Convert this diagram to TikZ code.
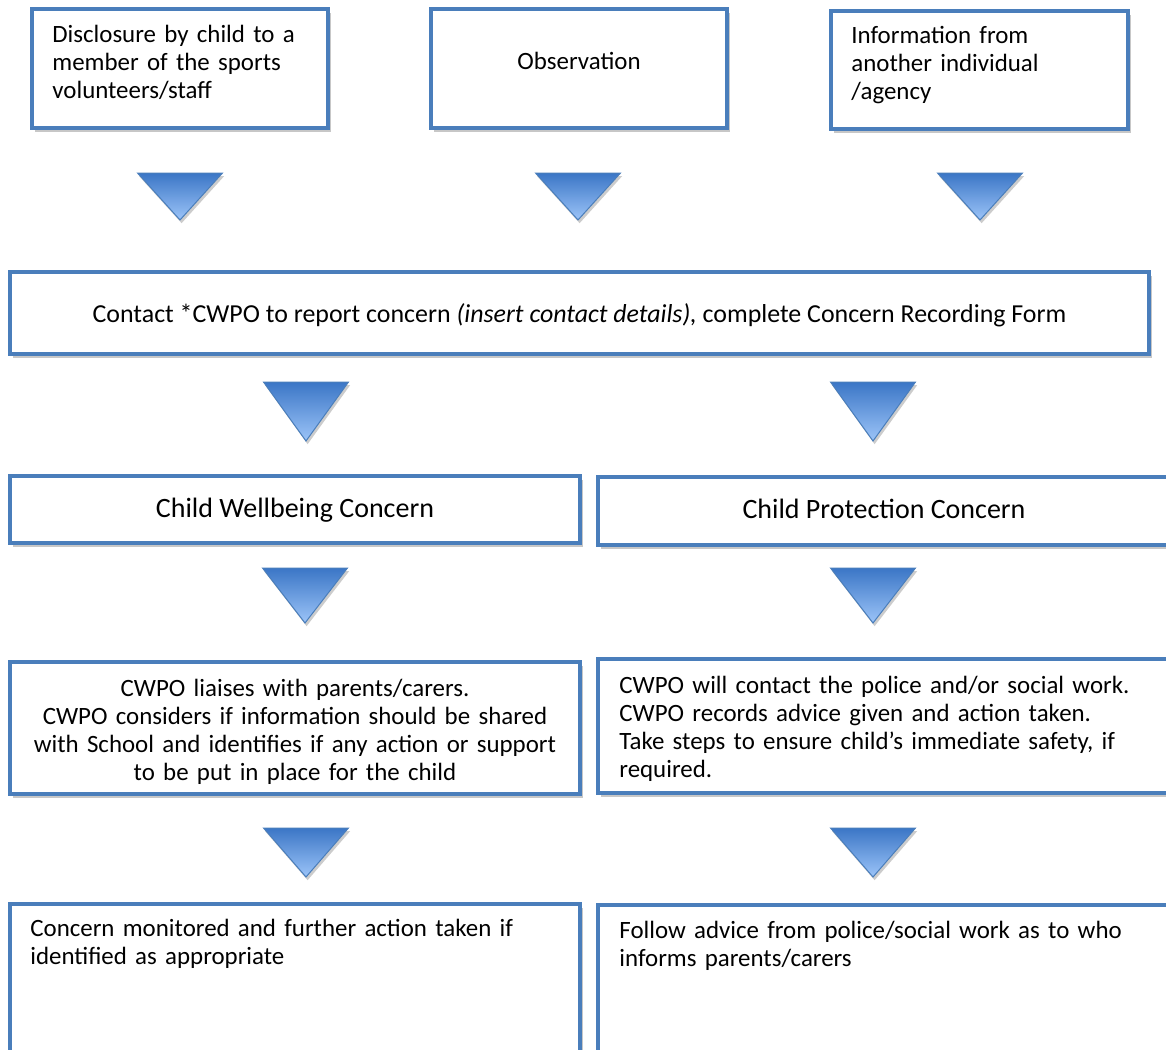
\documentclass[tikz,border=0pt]{standalone}
\usepackage{fontspec}
\setmainfont{Carlito}
\usetikzlibrary{shadows}

\definecolor{boxblue}{HTML}{4A7EBB}
\definecolor{tritop}{HTML}{3B76C6}
\definecolor{tribot}{HTML}{9CC4F8}

\begin{document}
\begin{tikzpicture}[x=0.5pt,y=-0.5pt,
    box/.style={draw=boxblue,line width=1.8pt,fill=white,inner sep=0pt,
        drop shadow={shadow xshift=1.6pt,shadow yshift=-1.8pt,fill=black,opacity=.22}},
    txt/.style={inner sep=0pt,font=\fontsize{12.45}{14}\selectfont},
    title/.style={inner sep=0pt,font=\fontsize{14}{16}\selectfont},
    tri/.style={draw=boxblue,line width=.5pt,top color=tritop,bottom color=tribot,
        drop shadow={shadow xshift=.8pt,shadow yshift=-1.6pt,fill=black,opacity=.2}}]
    \useasboundingbox (0,0) rectangle (1166,1049);
    \clip (0,0) rectangle (1166,1049);

    % first row
    \node[box,minimum width=148pt,minimum height=59.5pt] (disclose) at (180,68.5) {};
    \node[box,minimum width=148pt,minimum height=59.5pt] (observe) at (579,68.5) {};
    \node[box,minimum width=148.5pt,minimum height=59pt] (inform) at (979.5,70) {};
    \node[txt,anchor=base west,text width=140pt,align=left] (disclose-t) at (52,42)
        {Disclosure by child to a\\member of the sports\\volunteers/staff};
    \node[txt,anchor=base] (observe-t) at (579,69) {Observation};
    \node[txt,anchor=base west,text width=130pt,align=left] (inform-t) at (851,43)
        {Information from\\another individual\\/agency};

    % contact
    \node[box,minimum width=569.5pt,minimum height=41pt] (contact) at (579.5,313) {};
    \node[txt,font=\fontsize{12.95}{14}\selectfont,anchor=base] (contact-t) at (579.5,322)
        {Contact *CWPO to report concern \textit{(insert contact details),} complete Concern Recording Form};

    % two kinds of concern
    \node[box,minimum width=285pt,minimum height=33.5pt] (wellbeing) at (295,509.5) {};
    \node[box,minimum width=291pt,minimum height=34pt] (protection) at (889,511) {};
    \node[title,anchor=base] (wellbeing-t) at (295,517) {Child Wellbeing Concern};
    \node[title,anchor=base] (protection-t) at (884,518) {Child Protection Concern};

    % what the CWPO does
    \node[box,minimum width=285pt,minimum height=66pt] (liaise) at (295,728) {};
    \node[box,minimum width=291pt,minimum height=67pt] (police) at (889,726) {};
    \node[txt,anchor=base,text width=280pt,align=center] (liaise-t) at (295,696)
        {CWPO liaises with parents/carers.\\CWPO considers if information should be shared\\with School and identifies if any action or support\\to be put in place for the child};
    \node[txt,anchor=base west,text width=280pt,align=left] (police-t) at (619,693)
        {CWPO will contact the police and/or social work.\\CWPO records advice given and action taken.\\Take steps to ensure child’s immediate safety, if\\required.};

    % last row
    \node[box,minimum width=285pt,minimum height=83pt] (monitor) at (295,987) {};
    \node[box,minimum width=291pt,minimum height=83pt] (follow) at (889,988) {};
    \node[txt,anchor=base west,text width=270pt,align=left] (monitor-t) at (30,936)
        {Concern monitored and further action taken if\\identified as appropriate};
    \node[txt,anchor=base west,text width=270pt,align=left] (follow-t) at (619,938)
        {Follow advice from police/social work as to who\\informs parents/carers};

    % down arrows
    \foreach \cx/\ty/\by in {180/173/220,578/173/220,980/173/220,
                             306/382/441,873/382/441,
                             305/568/623,873/568/623,
                             306/828/877,873/828/877}
    {
        \path[tri] (\cx-42.5,\ty) -- (\cx+42.5,\ty) -- (\cx,\by) -- cycle;
    }
\end{tikzpicture}
\end{document}
